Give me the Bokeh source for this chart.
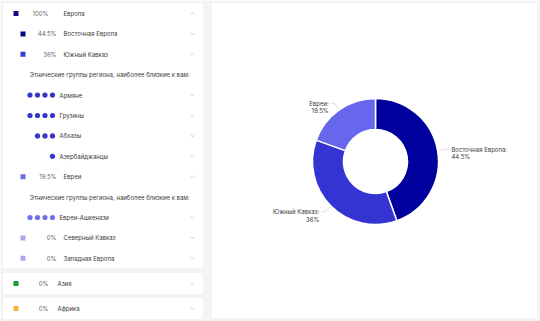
import math
from bokeh.plotting import figure
from bokeh.models import Range1d
from bokeh.embed import file_html
from bokeh.resources import INLINE
from bokeh.core.properties import value

W, H = 540, 321
FONT = "Inter"

# ---------------- data ----------------
slice_names = ["Восточная Европа", "Южный Кавказ", "Евреи"]
slice_values = [44.5, 36.0, 19.5]
slice_colors = ["#00009c", "#3434d2", "#6767ee"]

region_labels = ["Европа", "Восточная Европа", "Южный Кавказ", "Евреи",
                 "Северный Кавказ", "Западная Европа", "Азия", "Африка"]
region_pcts = ["100%", "44.5%", "36%", "19.5%", "0%", "0%", "0%", "0%"]
region_colors = ["#12127e", "#05058c", "#3a3ad4", "#6c6ce6",
                 "#a9a9f3", "#a9a9f3", "#1f9e36", "#f3b33a"]
group_labels = ["Армяне", "Грузины", "Абхазы", "Азербайджанцы", "Евреи-Ашкенази"]
group_dots = [4, 4, 3, 1, 4]
group_colors = ["#3535c8", "#3535c8", "#3535c8", "#3535c8", "#6f6fec"]
note_text = "Этнические группы региона, наиболее близкие к вам:"

rows = [
    ("region", 0, 0, True),
    ("region", 1, 1, False),
    ("region", 1, 2, True),
    ("note", None, None, None),
    ("group", None, 0, False),
    ("group", None, 1, False),
    ("group", None, 2, False),
    ("group", None, 3, False),
    ("region", 1, 3, True),
    ("note", None, None, None),
    ("group", None, 4, False),
    ("region", 1, 4, False),
    ("region", 1, 5, False),
]
extra_rows = [6, 7]  # Азия, Африка (separate cards)

# ---------------- figure ----------------
p = figure(width=W, height=H, output_backend="svg", toolbar_location=None,
           x_range=Range1d(0, W), y_range=Range1d(0, H), min_border=0,
           x_axis_location=None, y_axis_location=None,
           background_fill_color="#f3f4f6", border_fill_color="#f3f4f6")
p.grid.visible = False
p.outline_line_color = None

def Y(sy):
    return H - sy

# cards
card_l, card_r = [2, 2, 2, 211], [203, 203, 203, 537]
card_t, card_b = [2, 272, 297, 2], [268, 294, 319, 318]
p.quad(left=card_l, right=card_r, top=[Y(v) for v in card_t], bottom=[Y(v) for v in card_b],
       fill_color="white", line_color="#ececf0", line_width=0.6)

TXT = dict(text_font=value(FONT), text_font_size="6px", text_baseline="middle")

def chevron(x, y, up):
    d = 1.0 if up else -1.0
    p.line([x - 1.8, x, x + 1.8], [Y(y) - d, Y(y) + d, Y(y) - d], line_color="#b4b4bc", line_width=0.6)

step = 20.4
for i, (kind, level, idx, up) in enumerate(rows):
    y = 13 + i * step
    if kind == "region":
        sx = 15.5 if level == 0 else 22.5
        px = 48 if level == 0 else 56
        nx = 63
        p.rect([sx], [Y(y)], width=5, height=5, fill_color=region_colors[idx], line_color=None)
        p.text([px], [Y(y)], text=[region_pcts[idx]], text_align="right", text_color="#666", **TXT)
        p.text([nx], [Y(y)], text=[region_labels[idx]], text_color="#3a3a3a", **TXT)
        chevron(192, y, up)
    elif kind == "note":
        p.text([29], [Y(y)], text=[note_text], text_color="#3a3a3a", **TXT)
    else:
        n = group_dots[idx]
        xs = [52 - 7.5 * k for k in range(n)]
        p.scatter(xs, [Y(y)] * n, size=5.2, fill_color=group_colors[idx], line_color=None)
        p.text([59], [Y(y)], text=[group_labels[idx]], text_color="#3a3a3a", **TXT)
        chevron(192, y, False)

for j, idx in enumerate(extra_rows):
    y = 283 + j * 25
    p.rect([15.5], [Y(y)], width=5, height=5, fill_color=region_colors[idx], line_color=None)
    p.text([48], [Y(y)], text=[region_pcts[idx]], text_align="right", text_color="#666", **TXT)
    p.text([57], [Y(y)], text=[region_labels[idx]], text_color="#3a3a3a", **TXT)
    chevron(192, y, False)

# ---------------- donut ----------------
cx, cy = 375, Y(161)
r_out, r_in = 63, 32
total = sum(slice_values)
starts, ends = [], []
cum = 0.0
for v in slice_values:
    starts.append(math.pi / 2 - 2 * math.pi * cum / total)
    cum += v
    ends.append(math.pi / 2 - 2 * math.pi * cum / total)
p.annular_wedge(x=[cx] * 3, y=[cy] * 3, inner_radius=r_in, outer_radius=r_out,
                start_angle=starts, end_angle=ends, direction="clock",
                fill_color=slice_colors, line_color="white", line_width=1.5)

for name, v, a0, a1 in zip(slice_names, slice_values, starts, ends):
    m = (a0 + a1) / 2
    dx, dy = math.cos(m), math.sin(m)
    x1, y1 = cx + (r_out + 1) * dx, cy + (r_out + 1) * dy
    x2, y2 = cx + (r_out + 8) * dx, cy + (r_out + 8) * dy
    side = 1 if dx >= 0 else -1
    x3 = x2 + 4 * side
    p.line([x1, x2, x3], [y1, y2, y2], line_color="#c8c8cc", line_width=0.6)
    tx = x3 + 2 * side
    align = "left" if side > 0 else "right"
    pct = ("%g" % v) + "%"
    p.text([tx], [y2], text=[name + ":"], text_align=align, text_color="#3a3a3a", **TXT)
    p.text([tx], [y2 - 7.5], text=[pct], text_align=align, text_color="#3a3a3a", **TXT)

open("out.html", "w").write(file_html(p, INLINE))
